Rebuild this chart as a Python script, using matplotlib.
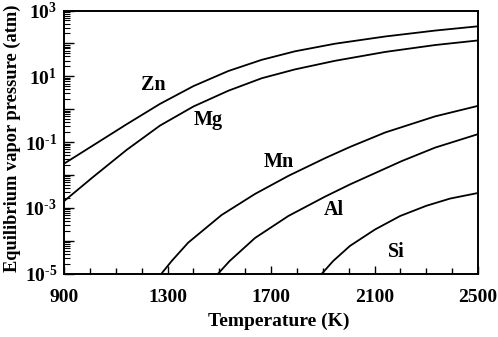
import matplotlib
matplotlib.use("Agg")
import matplotlib.pyplot as plt
import matplotlib.ticker as ticker
import numpy as np

plt.rcParams["font.family"] = "Liberation Serif"
plt.rcParams["font.weight"] = "bold"
plt.rcParams["mathtext.fontset"] = "custom"
plt.rcParams["mathtext.rm"] = "Liberation Serif:bold"
plt.rcParams["mathtext.bf"] = "Liberation Serif:bold"
plt.rcParams["mathtext.it"] = "Liberation Serif:bold:italic"

# temperature (K) and log10 of vapor pressure (atm)
znT = [900, 1013, 1142, 1271, 1400, 1535, 1664, 1793, 1947, 2141, 2334, 2500]
znLogP = [-1.66, -1.10, -0.46, 0.16, 0.70, 1.16, 1.50, 1.76, 1.99, 2.21, 2.39, 2.52]

mgT = [900, 1013, 1142, 1271, 1400, 1535, 1664, 1793, 1947, 2141, 2334, 2500]
mgLogP = [-2.80, -2.06, -1.24, -0.50, 0.08, 0.56, 0.94, 1.21, 1.47, 1.74, 1.95, 2.09]

mnT = [1277, 1316, 1380, 1509, 1638, 1767, 1909, 2005, 2141, 2334, 2500]
mnLogP = [-5.0, -4.62, -4.06, -3.22, -2.58, -2.03, -1.49, -1.15, -0.71, -0.22, 0.10]

alT = [1496, 1540, 1638, 1767, 1909, 2005, 2205, 2334, 2500]
alLogP = [-5.0, -4.62, -3.92, -3.25, -2.66, -2.29, -1.58, -1.17, -0.76]

siT = [1897, 1940, 2005, 2102, 2199, 2300, 2392, 2500]
siLogP = [-5.0, -4.62, -4.16, -3.66, -3.25, -2.94, -2.72, -2.55]

curves = [(znT, znLogP), (mgT, mgLogP), (mnT, mnLogP), (alT, alLogP), (siT, siLogP)]

# label positions (T, log p)
labels = ["Zn", "Mg", "Mn", "Al", "Si"]
labelT = [1244, 1457, 1731, 1943, 2183]
labelLogP = [0.74, -0.33, -1.60, -3.06, -4.34]

xTicks = [900, 1300, 1700, 2100, 2500]

fig = plt.figure(figsize=(4.98, 3.37), dpi=100)
ax = fig.add_axes([0.1285, 0.1884, 0.8315, 0.7804])

for t, lp in curves:
    ax.plot(t, 10 ** np.array(lp), color="black", lw=1.3, solid_joinstyle="round")

for name, t, lp in zip(labels, labelT, labelLogP):
    ax.text(t, 10 ** lp, name, ha="center", va="center", fontsize=14.5, fontweight="bold")

ax.set_yscale("log")
ax.set_xlim(900, 2500)
ax.set_ylim(1e-5, 1e3)

ax.xaxis.set_major_locator(ticker.FixedLocator(xTicks))
ax.xaxis.set_minor_locator(ticker.FixedLocator(np.arange(900, 2501, 100)))
ax.yaxis.set_major_locator(ticker.LogLocator(base=10, numticks=20))
ax.yaxis.set_minor_locator(ticker.LogLocator(base=10, subs=np.arange(2, 10), numticks=20))


def yfmt(v, pos):
    e = int(round(np.log10(v)))
    if e % 2 == 0:
        return ""
    if e < 0:
        return "10$^{\u2010%d}$" % (-e)
    return "10$^{%d}$" % e


ax.yaxis.set_major_formatter(ticker.FuncFormatter(yfmt))
ax.yaxis.set_minor_formatter(ticker.NullFormatter())

ax.tick_params(axis="both", which="both", direction="in", top=False, right=False)
ax.tick_params(axis="x", which="major", length=6, width=1.0, pad=11, labelsize=14)
ax.tick_params(axis="x", which="minor", length=4, width=1.0)
ax.tick_params(axis="y", which="major", length=7, width=1.0, pad=5, labelsize=14)
ax.tick_params(axis="y", which="minor", length=4, width=0.8)
for lbl in ax.get_xticklabels() + ax.get_yticklabels():
    lbl.set_fontweight("bold")

for s in ax.spines.values():
    s.set_linewidth(1.4)

ax.set_xlabel("Temperature (K)", fontsize=14, fontweight="bold")
ax.xaxis.set_label_coords(0.519, -0.148)
ax.set_ylabel("Equilibrium vapor pressure (atm)", fontsize=13.2, fontweight="bold")
ax.yaxis.set_label_coords(-0.104, 0.515)

fig.savefig("out.png", dpi=100)
